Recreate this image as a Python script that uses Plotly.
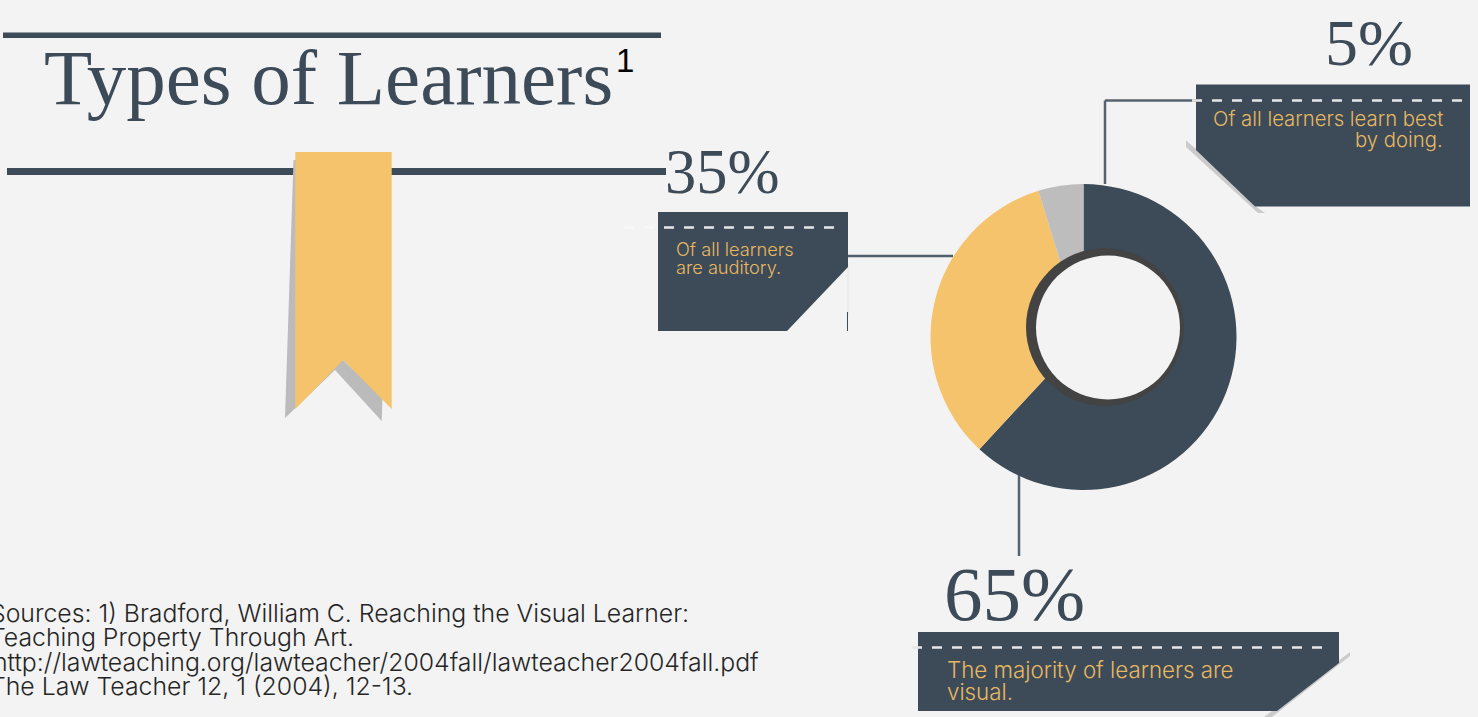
import plotly.graph_objects as go

W = 1478
H = 717

# chart data
learner_types = ["Visual", "Auditory", "Doing"]
learner_shares = [65, 35, 5]
slice_colors = ["#3D4B59", "#F4C36C", "#BDBDBD"]

title_text = "Types of Learners"
percent_labels = ["35%", "5%", "65%"]
auditory_lines = ["Of all learners", "are auditory."]
doing_lines = ["Of all learners learn best", "by doing."]
visual_lines = ["The majority of learners are", "visual."]
source_lines = [
    "Sources: 1) Bradford, William C. Reaching the Visual Learner:",
    "Teaching Property Through Art.",
    "http://lawteaching.org/lawteacher/2004fall/lawteacher2004fall.pdf",
    "The Law Teacher 12, 1 (2004), 12-13.",
]

DARK = "#3D4B59"
YELLOW = "#F4C36C"
TEXT_YELLOW = "#E8B860"
SHADOW = "#BBBBBB"
SERIF = "Liberation Serif"
SANS = "Inter"


def fx(x):
    return x / W


def fy(y):
    return 1 - y / H


def poly(points, color):
    path = "M " + " L ".join(f"{fx(x)},{fy(y)}" for x, y in points) + " Z"
    return dict(type="path", xref="paper", yref="paper", path=path,
                fillcolor=color, line=dict(width=0), layer="below")


def line(x0, y0, x1, y1, color, width=2.5, dash=None, layer="below"):
    return dict(type="line", xref="paper", yref="paper",
                x0=fx(x0), y0=fy(y0), x1=fx(x1), y1=fy(y1),
                line=dict(color=color, width=width, dash=dash), layer=layer)


def circle(cx, cy, r, color):
    return dict(type="circle", xref="paper", yref="paper",
                x0=fx(cx - r), x1=fx(cx + r), y0=fy(cy + r), y1=fy(cy - r),
                fillcolor=color, line=dict(width=0), layer="above")


def label(text, x, y, size, color, family=SANS, anchor="left", weight=None):
    return dict(text=text, xref="paper", yref="paper", x=fx(x), y=fy(y),
                xanchor=anchor, yanchor="middle", showarrow=False,
                font=dict(family=family, size=size, color=color, weight=weight))


shapes = [
    # rules behind the title
    poly([(3, 32.5), (661, 32.5), (661, 38), (3, 38)], DARK),
    poly([(7, 168), (666, 168), (666, 175), (7, 175)], DARK),
    # ribbon
    poly([(293.5, 160), (285, 418), (335, 370), (381.7, 421), (382.5, 398),
          (343, 360), (300, 300), (300, 160)], SHADOW),
    poly([(295.3, 152), (391.7, 152), (391.7, 409), (343.3, 360), (295.3, 409)], YELLOW),
    # connectors
    line(848, 256, 953, 256, "#4F5F6E"),
    line(1105, 184, 1105, 100.5, "#54636F"),
    line(1105, 100.5, 1196, 100.5, "#54636F"),
    line(1019, 475, 1019, 556, "#54636F"),
    # box shadows
    poly([(1186, 140.5), (1196, 149), (1255, 206), (1265, 213), (1258, 213), (1186, 147)], "#CBCBCB"),
    poly([(1350, 652), (1350, 656), (1272, 717), (1264, 717)], "#CBCBCB"),
    line(848, 263, 848, 315, "#E4E4E4", width=1),
    line(847.5, 312, 847.5, 331, DARK, width=1),
    # boxes
    poly([(658, 212), (848, 212), (848, 267), (787, 331), (658, 331)], DARK),
    poly([(1196, 84.5), (1470, 84.5), (1470, 206.5), (1255, 206.5), (1196, 150)], DARK),
    poly([(918, 632), (1339, 632), (1339, 663), (1277, 711), (918, 711)], DARK),
    # stitching
    line(664, 227.5, 836, 227.5, "#E6E6E6", dash="10px,10px"),
    line(624, 227.5, 654, 227.5, "#F8F8F8", dash="10px,10px"),
    line(1192, 100.5, 1464, 100.5, "#E6E6E6", dash="10px,10px"),
    line(912, 647.5, 1322, 647.5, "#E6E6E6", dash="10px,10px"),
    # off-centre hole of the doughnut
    circle(1105, 327, 79, "#434343"),
    circle(1108, 327.5, 72, "#F3F3F3"),
]

annotations = [
    label(title_text, 42, 77, 79, DARK, family=SERIF),
    label("1", 614, 60, 33, "#000000", family="Liberation Sans"),
    label(percent_labels[0], 663, 172, 62.5, DARK, family=SERIF),
    label(percent_labels[1], 1323, 43, 66, DARK, family=SERIF),
    label(percent_labels[2], 942, 594, 77, DARK, family=SERIF),
    label(auditory_lines[0], 673.5, 249, 18.2, TEXT_YELLOW, weight=300),
    label(auditory_lines[1], 673.5, 267, 18.2, TEXT_YELLOW, weight=300),
    label(doing_lines[0], 1445, 119, 20.3, TEXT_YELLOW, anchor="right", weight=300),
    label(doing_lines[1], 1445, 139, 20.3, TEXT_YELLOW, anchor="right", weight=300),
    label(visual_lines[0], 944.5, 669, 22.3, TEXT_YELLOW, weight=300),
    label(visual_lines[1], 944.5, 691, 22.3, TEXT_YELLOW, weight=300),
]
for i, text in enumerate(source_lines):
    # first letters run off the left edge of the page
    start = -9 if text.startswith("http") else -12
    annotations.append(label(text, start, 613 + i * 24.3, 24.8, "#262626", weight=300))

fig = go.Figure(
    go.Pie(
        labels=learner_types,
        values=learner_shares,
        sort=False,
        direction="clockwise",
        rotation=0,
        textinfo="none",
        hoverinfo="label+percent",
        showlegend=False,
        marker=dict(colors=slice_colors, line=dict(width=0)),
        domain=dict(x=[fx(930.5), fx(1236.5)], y=[fy(490), fy(184)]),
    )
)

fig.update_layout(
    width=W,
    height=H,
    margin=dict(l=0, r=0, t=0, b=0),
    paper_bgcolor="#F3F3F3",
    plot_bgcolor="#F3F3F3",
    shapes=shapes,
    annotations=annotations,
)

fig.write_html(
    "out.html",
    config=dict(displayModeBar=False),
    post_script="document.body.style.margin='0';document.body.style.overflow='hidden';",
)
